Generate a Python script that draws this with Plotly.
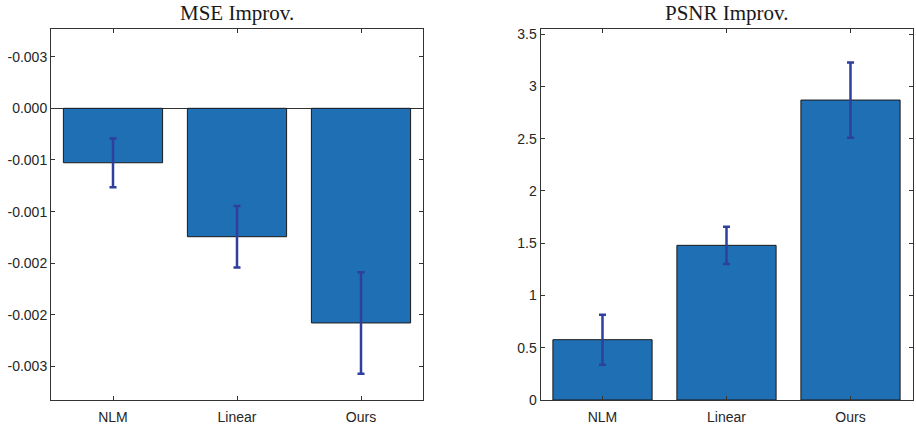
import plotly.graph_objects as go

categories = ["NLM", "Linear", "Ours"]
mse_mean = [-0.000527, -0.001243, -0.002078]
mse_err = [0.000236, 0.000297, 0.000491]
psnr_mean = [0.577, 1.48, 2.87]
psnr_err = [0.239, 0.178, 0.36]

mse_tickvals = [0.0005, 0.0, -0.0005, -0.001, -0.0015, -0.002, -0.0025]
mse_ticktext = ["-0.003", "0.000", "-0.001", "-0.001", "-0.002", "-0.002", "-0.003"]
psnr_tickvals = [0, 0.5, 1, 1.5, 2, 2.5, 3, 3.5]
psnr_ticktext = ["0", "0.5", "1", "1.5", "2", "2.5", "3", "3.5"]

W, H = 916, 428
BAR = "#1f6fb4"
ERR = "#2e3f9e"
AX = "#333333"

fig = go.Figure()
fig.add_trace(go.Bar(
    x=categories, y=mse_mean, width=0.8,
    marker=dict(color=BAR, line=dict(color="#1a1a1a", width=1)),
    error_y=dict(type="data", array=mse_err, color=ERR, thickness=2.5, width=3.5),
    xaxis="x", yaxis="y", showlegend=False, hoverinfo="skip"))
fig.add_trace(go.Bar(
    x=categories, y=psnr_mean, width=0.8,
    marker=dict(color=BAR, line=dict(color="#1a1a1a", width=1)),
    error_y=dict(type="data", array=psnr_err, color=ERR, thickness=2.5, width=3.5),
    xaxis="x2", yaxis="y2", showlegend=False, hoverinfo="skip"))

tickfont = dict(family="Liberation Sans, Arial, sans-serif", size=14, color="#262626")
common_ax = dict(showline=True, linecolor=AX, linewidth=1, mirror="ticks",
                 ticks="inside", ticklen=4, tickcolor=AX, showgrid=False,
                 tickfont=tickfont, automargin=False)

ydom = [1 - 400 / H, 1 - 29 / H]
fig.update_layout(
    template="none",
    width=W, height=H,
    margin=dict(l=0, r=0, t=0, b=0),
    paper_bgcolor="white", plot_bgcolor="white",
    xaxis=dict(domain=[51 / W, 423 / W], anchor="y", type="category",
               range=[-0.5, 2.5], zeroline=False, ticklabelstandoff=4, **common_ax),
    yaxis=dict(domain=ydom, anchor="x", range=[-0.002824, 0.000768],
               tickmode="array", tickvals=mse_tickvals, ticktext=mse_ticktext,
               zeroline=True, zerolinecolor=AX, zerolinewidth=1, **common_ax),
    xaxis2=dict(domain=[540.5 / W, 912.5 / W], anchor="y2", type="category",
                range=[-0.5, 2.5], zeroline=False, ticklabelstandoff=4, **common_ax),
    yaxis2=dict(domain=ydom, anchor="x2", range=[0, 3.55],
                tickmode="array", tickvals=psnr_tickvals, ticktext=psnr_ticktext,
                zeroline=False, **common_ax),
    annotations=[
        dict(text="MSE Improv.", x=237 / W, y=1 - 13 / H, xref="paper", yref="paper",
             showarrow=False, xanchor="center", yanchor="middle",
             font=dict(family="Liberation Serif, Times New Roman, serif", size=21, color="#1a1a1a")),
        dict(text="PSNR Improv.", x=726.5 / W, y=1 - 13 / H, xref="paper", yref="paper",
             showarrow=False, xanchor="center", yanchor="middle",
             font=dict(family="Liberation Serif, Times New Roman, serif", size=21, color="#1a1a1a")),
    ],
)

fig.write_html("out.html", config={"displayModeBar": False},
               post_script="document.body.style.margin='0px';document.body.style.overflow='hidden';")
